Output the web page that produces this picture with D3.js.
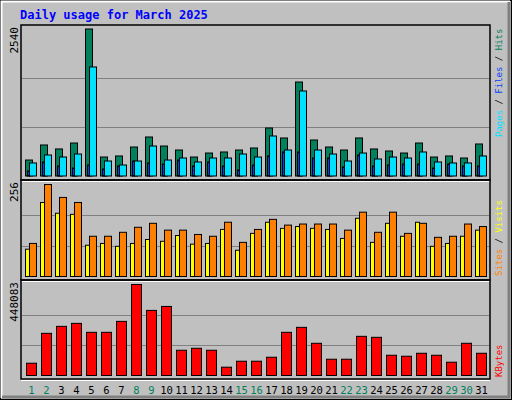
<!DOCTYPE html>
<meta charset="utf-8">
<head>
<script src="https://cdn.jsdelivr.net/npm/d3@7"></script>
<style>
  body { margin: 0; }
  text { font-family: "DejaVu Sans Mono", monospace; }
</style>
</head>
<body>
<script>
var days = d3.range(1, 32);
var weekend = [1, 2, 8, 9, 15, 16, 22, 23, 29, 30];

var hits  = [276,536,467,570,2540,328,346,501,674,518,449,328,397,415,449,484,829,657,1624,622,501,449,657,467,432,397,570,328,346,311,553];
var files = [225,363,328,380,1884,259,190,259,518,276,311,242,311,311,380,328,691,449,1469,449,380,259,397,294,328,311,415,242,225,225,346];
var pages = [86,242,173,138,190,121,173,259,225,207,276,173,242,173,104,190,346,415,415,311,311,156,363,173,190,207,207,138,207,173,173];
var visits = [92,256,220,206,112,112,123,137,148,129,129,117,112,151,95,131,159,143,146,146,146,129,179,123,179,120,148,109,112,146,139];
var sites  = [76,206,176,173,87,92,84,92,103,98,114,90,92,131,73,120,151,134,139,134,131,106,162,95,148,112,151,84,92,112,129];
var kbytes = [60500,207600,242000,256700,212600,212600,266500,448083,320500,340100,124300,134100,124300,40900,70300,70300,89900,212600,237100,158600,80100,80100,192900,188000,99700,94800,109500,99700,65400,158600,109500];

var W = 512, H = 400;
var svg = d3.select("body").append("svg").attr("width", W).attr("height", H);

// frame
svg.append("rect").attr("width", W).attr("height", H).attr("fill", "#c0c0c0");
svg.append("rect").attr("x", 0.5).attr("y", 0.5).attr("width", W - 1).attr("height", H - 1)
  .attr("fill", "none").attr("stroke", "#000");
svg.append("path").attr("d", "M1.5,398V1.5H510").attr("fill", "none").attr("stroke", "#fff").attr("stroke-width", 2);
svg.append("path").attr("d", "M2,397H509V2").attr("fill", "none").attr("stroke", "#808080").attr("stroke-width", 3);

svg.append("text").attr("x", 20).attr("y", 19).attr("fill", "#0000ff")
  .attr("font-size", "12px").attr("font-weight", "bold").text("Daily usage for March 2025");

var x = d3.scaleLinear().domain([1, 31]).range([25.5, 475.5]);
var L = 21, R = 490;

function panel(top, bottom, base, peak, max, labelText) {
  var y = d3.scaleLinear().domain([0, max]).range([base, peak]);
  svg.append("rect").attr("x", L).attr("y", top).attr("width", R - L).attr("height", bottom - top)
    .attr("fill", "none").attr("stroke", "#000").attr("stroke-width", 1.5);
  svg.append("line").attr("x1", L).attr("x2", R).attr("y1", bottom + 1.5).attr("y2", bottom + 1.5)
    .attr("stroke", "#fff");
  [max / 3, 2 * max / 3].forEach(function (v) {
    svg.append("line").attr("x1", L + 1).attr("x2", R - 1)
      .attr("y1", Math.round(y(v)) + 0.5).attr("y2", Math.round(y(v)) + 0.5).attr("stroke", "#808080");
  });
  svg.append("text").attr("transform", "translate(18," + (top + 2) + ") rotate(-90)")
    .attr("text-anchor", "end").attr("font-size", "11px").attr("font-family", "DejaVu Sans, sans-serif")
    .text(labelText);
  return y;
}

function bars(data, y, dx, w, color) {
  svg.append("g").selectAll("rect").data(data).enter().append("rect")
    .attr("x", function (d, i) { return x(days[i]) + dx; })
    .attr("y", function (d) { return y(d); })
    .attr("width", w)
    .attr("height", function (d) { return y(0) - y(d); })
    .attr("fill", color).attr("stroke", "#000").attr("stroke-width", 1);
}

var y1 = panel(25, 180, 176, 29, 2540, "2540");
bars(hits, y1, 0, 7, "#00805c");
bars(pages, y1, 2, 2, "#0040ff");
bars(files, y1, 4, 7, "#00e0ff");

var y2 = panel(180, 280, 276.5, 184.5, 256, "256");
bars(sites, y2, 0, 4, "#ffff00");
bars(visits, y2, 4, 7, "#ff8000");

var y3 = panel(280, 379, 375.5, 284.5, 448083, "448083");
bars(kbytes, y3, 1, 10, "#ff0000");

svg.append("g").selectAll("text").data(days).enter().append("text")
  .attr("x", function (d) { return x(d) + 6; })
  .attr("y", 394).attr("text-anchor", "middle").attr("font-size", "10.5px")
  .attr("font-family", "DejaVu Sans, sans-serif")
  .attr("fill", function (d) { return weekend.indexOf(d) >= 0 ? "#00805c" : "#000"; })
  .text(function (d) { return d; });

function sideLabel(yBottom, parts) {
  var t = svg.append("text").attr("transform", "translate(502," + yBottom + ") rotate(-90)")
    .attr("font-size", "9px");
  parts.forEach(function (p) { t.append("tspan").attr("fill", p[1]).text(p[0]); });
}
sideLabel(137, [["Pages", "#00e0ff"], [" / ", "#000"], ["Files", "#0040ff"], [" / ", "#000"], ["Hits", "#00805c"]]);
sideLabel(276, [["Sites", "#ff8000"], [" / ", "#000"], ["Visits", "#ffff00"]]);
sideLabel(377, [["KBytes", "#ff0000"]]);
</script>
</body>
